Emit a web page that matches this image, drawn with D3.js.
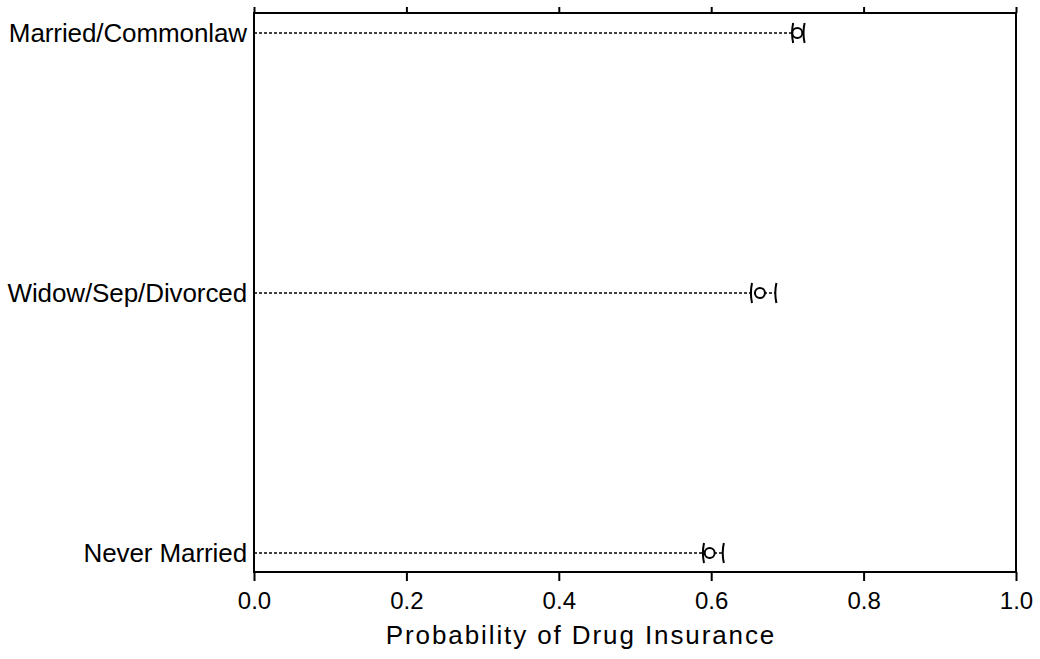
<!DOCTYPE html>
<html><head><meta charset="utf-8">
<script src="https://cdn.jsdelivr.net/npm/d3@7"></script>
<style>body{margin:0;background:#fff}svg{display:block}</style>
</head><body>
<svg id="c" width="1040" height="659"></svg>
<script>
const categories = ["Married/Commonlaw", "Widow/Sep/Divorced", "Never Married"];
const estimates = [0.713, 0.664, 0.598];
const lowerCI = [0.706, 0.652, 0.589];
const upperCI = [0.721, 0.684, 0.615];
const xTicks = [0, 0.2, 0.4, 0.6, 0.8, 1.0];
const xTitle = "Probability of Drug Insurance";

(function () {
const svg = d3.select("#c");
const L = 254, R = 1016, T = 13, B = 572;
const x = d3.scaleLinear().domain([0, 1]).range([L, R]);
const y = d3.scalePoint().domain(categories).range([33, 553]);
const font = "'Liberation Sans', Arial, sans-serif";

svg.append("rect").attr("x", L).attr("y", T).attr("width", R - L).attr("height", B - T)
  .attr("fill", "none").attr("stroke", "#000").attr("stroke-width", 2);

const bottomAx = svg.append("g").attr("transform", `translate(0,${B})`)
  .call(d3.axisBottom(x).tickValues(xTicks).tickFormat(d3.format(".1f")).tickSize(9).tickPadding(11));
bottomAx.select(".domain").remove();
bottomAx.selectAll("line").attr("stroke-width", 2).attr("stroke", "#000");
bottomAx.selectAll("text").attr("font-family", font).attr("font-size", 24).attr("fill", "#000");

const topAx = svg.append("g").attr("transform", `translate(0,${T})`)
  .call(d3.axisTop(x).tickValues(xTicks).tickFormat("").tickSize(6));
topAx.select(".domain").remove();
topAx.selectAll("line").attr("stroke-width", 2).attr("stroke", "#000");

svg.append("g").selectAll("text").data(categories).join("text")
  .attr("x", L - 7).attr("y", d => y(d)).attr("dy", "0.36em")
  .attr("text-anchor", "end").attr("font-family", font).attr("font-size", 26)
  .attr("letter-spacing", -0.1).text(d => d);

const rows = categories.map((c, i) => ({c, est: estimates[i], lo: lowerCI[i], hi: upperCI[i]}));

svg.append("g").selectAll("line").data(rows).join("line")
  .attr("x1", L).attr("x2", d => x(d.hi)).attr("y1", d => y(d.c)).attr("y2", d => y(d.c))
  .attr("stroke", "#000").attr("stroke-width", 1.5).attr("stroke-dasharray", "3,2");

const g = svg.append("g");
rows.forEach(d => {
  const cy = y(d.c);
  [d.lo, d.hi].forEach(v => {
    const cx = x(v);
    g.append("path")
      .attr("d", `M${cx + 1.2},${cy - 10} Q${cx - 1},${cy} ${cx + 1.2},${cy + 10}`)
      .attr("fill", "none").attr("stroke", "#000").attr("stroke-width", 2);
  });
  g.append("circle").attr("cx", x(d.est)).attr("cy", cy).attr("r", 5)
    .attr("fill", "#fff").attr("stroke", "#000").attr("stroke-width", 2);
});

svg.append("text").attr("x", 581).attr("y", 644).attr("text-anchor", "middle")
  .attr("font-family", font).attr("font-size", 26).attr("letter-spacing", 1.9).text(xTitle);
})();
</script>
</body></html>
